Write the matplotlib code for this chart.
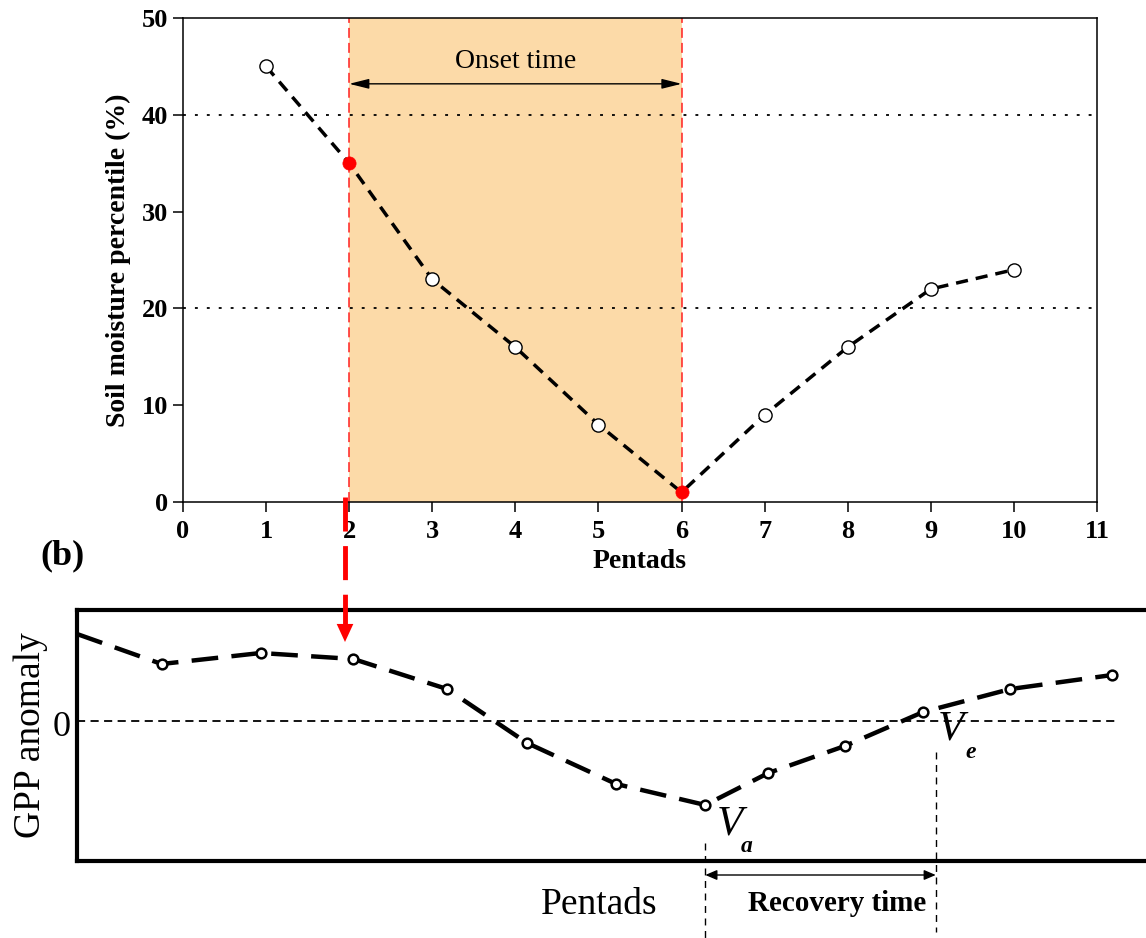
import matplotlib
matplotlib.use('Agg')
import matplotlib.pyplot as plt
from matplotlib.patches import FancyArrowPatch
from matplotlib.lines import Line2D

plt.rcParams['font.family'] = ['Liberation Serif', 'DejaVu Serif']

# ── data ─────────────────────────────────────────────────────────────────────
pentads = [1, 2, 3, 4, 5, 6, 7, 8, 9, 10]
soil_pct = [45, 35, 23, 16, 8, 1, 9, 16, 22, 24]
onset_start, onset_end = 2, 6
thresholds = [20, 40]

# panel (b): schematic GPP anomaly curve (arbitrary units)
gpp_t = [0.0, 0.94, 2.04, 3.07, 4.11, 5.0, 5.99, 6.98, 7.68, 8.53, 9.4, 10.37, 11.5]
gpp_v = [1.74, 1.14, 1.36, 1.24, 0.64, -0.44, -1.26, -1.68, -1.04, -0.5, 0.18, 0.64, 0.92]
t_va, t_ve = 6.98, 9.54

W, H = 1146, 938
fig = plt.figure(figsize=(W / 100, H / 100), dpi=100)
fig.patch.set_facecolor('white')

def fx(px):
    return px / W

def fy(py):
    return 1 - py / H

# ═══════════════════════════════════════════════════════════════════
# top panel
# ═══════════════════════════════════════════════════════════════════
ax = fig.add_axes([fx(183), fy(502), (1097 - 183) / W, (502 - 18) / H])
ax.set_xlim(0, 11)
ax.set_ylim(0, 50)
ax.set_xticks(range(0, 12))
ax.set_yticks(range(0, 51, 10))

ax.axvspan(onset_start, onset_end, color='#FCDAA8', lw=0, zorder=0)
for xv in (onset_start, onset_end):
    ax.axvline(xv, color='#FF2020', lw=1.1, dashes=(6.5, 3.3), zorder=1)
for yv in thresholds:
    ax.axhline(yv, color='black', lw=1.3, dashes=(1.6, 5), zorder=1)

ax.plot(pentads, soil_pct, color='black', lw=2.5, dashes=(3.5, 2.3), zorder=2)
opens = [(p, s) for p, s in zip(pentads, soil_pct) if p not in (onset_start, onset_end)]
reds = [(p, s) for p, s in zip(pentads, soil_pct) if p in (onset_start, onset_end)]
ax.plot([p for p, _ in opens], [s for _, s in opens], 'o', ms=9.5,
        mfc='white', mec='black', mew=1.0, zorder=3)
ax.plot([p for p, _ in reds], [s for _, s in reds], 'o', ms=9.5,
        mfc='red', mec='red', mew=0.5, zorder=3, clip_on=False)

ax.annotate('', xy=(onset_start, 43.2), xytext=(onset_end, 43.2),
            arrowprops=dict(arrowstyle='<|-|>,head_length=1.2,head_width=0.3',
                            color='black', lw=1.0, mutation_scale=10,
                            shrinkA=0, shrinkB=0))
ax.text(4, 45.5, 'Onset time', ha='center', va='center', fontsize=20)

for sp in ax.spines.values():
    sp.set_linewidth(1.1)
ax.tick_params(direction='out', length=7, width=1.1, labelsize=19)
ax.tick_params(axis='x', pad=6)
for lbl in ax.get_xticklabels() + ax.get_yticklabels():
    lbl.set_fontweight('bold')
ax.set_xlabel('Pentads', fontsize=20, fontweight='bold')
ax.set_ylabel('Soil moisture percentile (%)', fontsize=20, fontweight='bold')
ax.xaxis.set_label_coords(0.5, -0.097)
ax.yaxis.set_label_coords(-0.057, 0.5)

# ═══════════════════════════════════════════════════════════════════
# bottom panel
# ═══════════════════════════════════════════════════════════════════
ax2 = fig.add_axes([fx(77), fy(861), (1150 - 77) / W, (861 - 610) / H])
ax2.set_xlim(0, 11.92)
ax2.set_ylim(-2.8, 2.22)
for sp in ax2.spines.values():
    sp.set_linewidth(3.0)
ax2.set_xticks([])
ax2.set_yticks([])
ax2.set_ylabel('GPP anomaly', fontsize=27)
ax2.yaxis.set_label_coords(-0.027, 0.5)
ax2.text(-0.006, -0.14, '0', transform=ax2.get_yaxis_transform(),
         ha='right', va='center', fontsize=26)

ax2.plot([0, 11.53], [0, 0], color='black', lw=1.3, dashes=(4.5, 3), zorder=1)
ax2.plot(gpp_t, gpp_v, color='black', lw=3.2, dashes=(6, 3), zorder=2)
ax2.plot(gpp_t[1:], gpp_v[1:], 'o', ms=7, mfc='white', mec='black', mew=1.8, zorder=3)

# recovery markers
ax2.plot([t_va, t_va], [-2.44, -4.34], color='black', lw=1.0, dashes=(5, 4), clip_on=False)
ax2.plot([t_ve, t_ve], [-0.62, -4.22], color='black', lw=1.0, dashes=(5, 4), clip_on=False)
ax2.annotate('', xy=(t_va, -3.08), xytext=(t_ve, -3.08), annotation_clip=False,
             arrowprops=dict(arrowstyle='<|-|>,head_length=0.7,head_width=0.3',
                             color='black', lw=1.0, mutation_scale=10,
                             shrinkA=0, shrinkB=0))
ax2.text(8.44, -3.64, 'Recovery time', ha='center', va='center', fontsize=21,
         fontweight='bold', clip_on=False)
ax2.text(5.8, -3.68, 'Pentads', ha='center', va='center', fontsize=27, clip_on=False)

ax2.text(7.25, -2.06, 'V', ha='center', va='center', fontsize=31, style='italic', clip_on=False)
ax2.text(7.44, -2.5, 'a', ha='center', va='center', fontsize=17, style='italic',
         fontweight='bold', clip_on=False)
ax2.text(9.71, -0.17, 'V', ha='center', va='center', fontsize=31, style='italic', clip_on=False)
ax2.text(9.93, -0.62, 'e', ha='center', va='center', fontsize=17, style='italic',
         fontweight='bold', clip_on=False)

# ── (b) label and red link arrow ──
fig.text(fx(62), fy(556), '(b)', ha='center', va='center', fontsize=26, fontweight='bold')
fig.add_artist(Line2D([fx(345), fx(345)], [fy(497), fy(626)], color='red', lw=3.5,
                      dashes=(7, 3), transform=fig.transFigure))
fig.add_artist(FancyArrowPatch((fx(345), fy(622)), (fx(345), fy(642)),
                               transform=fig.transFigure, color='red', lw=0,
                               arrowstyle='-|>,head_length=1.3,head_width=0.6',
                               mutation_scale=10, shrinkA=0, shrinkB=0))

plt.savefig('out.png', dpi=100, facecolor='white')
plt.close()
